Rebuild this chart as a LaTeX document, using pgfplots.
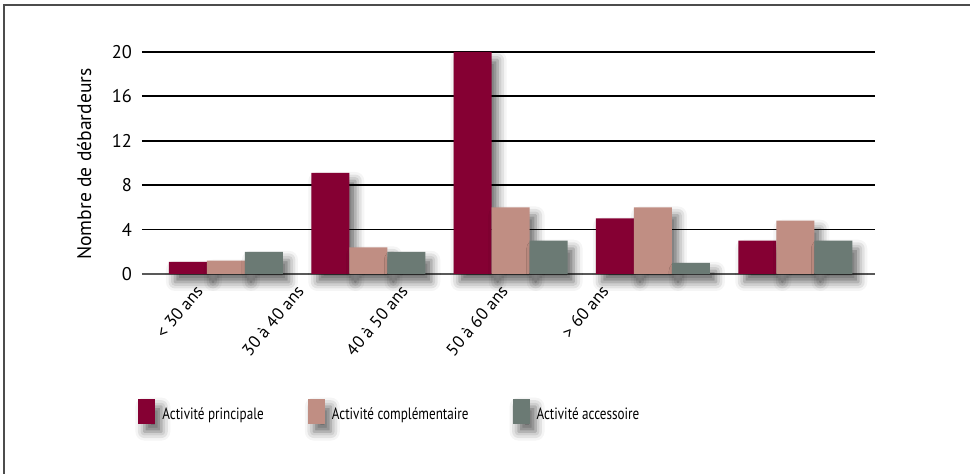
\documentclass[border=0pt]{standalone}
\usepackage{fontspec}
\setmainfont{PT Sans}
\newfontfamily\legfont[FakeStretch=0.8]{PT Sans}
\usepackage{pgfplots}
\pgfplotsset{compat=1.18}
\usetikzlibrary{shadows.blur}

\definecolor{cPrin}{RGB}{133,0,51}
\definecolor{cComp}{RGB}{192,142,131}
\definecolor{cAcc}{RGB}{107,122,116}

\tikzset{barshadow/.style={blur shadow={shadow xshift=3pt, shadow yshift=-4pt,
  shadow blur radius=4.5pt, shadow opacity=60}}}

\begin{document}
\begin{tikzpicture}
  \path[use as bounding box] (0,0) rectangle (485pt,-237pt);
  \draw[line width=0.8pt, black!70] (2pt,-237pt) -- (2pt,-2.5pt) -- (485pt,-2.5pt);
  \begin{axis}[
    at={(71pt,-137pt)}, anchor=south west,
    scale only axis,
    width=366.5pt, height=111pt,
    ybar=0pt,
    bar width=19pt,
    xmin=-0.59, xmax=4.56,
    ymin=0, ymax=20,
    clip=false,
    axis lines*=left,
    y axis line style={draw=none},
    x axis line style={black!65, line width=0.6pt},
    major tick length=0pt,
    ytick={4,8,...,20},
    extra y ticks={0},
    extra y tick style={grid=none},
    ymajorgrids,
    grid style={black, line width=0.9pt},
    /pgf/number format/assume math mode=true,
    yticklabel style={font=\fontsize{9.2}{10}\selectfont, anchor=east, xshift=-1.5pt},
    xtick={-0.228,0.481,1.211,1.914,2.623},
    xticklabels={{< 30 ans},{30 à 40 ans},{40 à 50 ans},{50 à 60 ans},{> 60 ans}},
    xticklabel style={font=\fontsize{8.6}{9}\selectfont, rotate=50, anchor=north east},
    ylabel={Nombre de débardeurs},
    ylabel style={at={(axis description cs:-0.079,0.495)}, anchor=center,
      font=\fontsize{9.8}{11}\selectfont},
    legend columns=3,
    legend style={draw=none, fill=none, inner sep=0pt,
      at={(axis description cs:-0.0055,-0.624)}, anchor=west,
      font=\legfont\fontsize{8.2}{9}\selectfont,
      /tikz/every odd column/.append style={column sep=1.5pt},
      /tikz/every even column/.append style={column sep=20pt}},
    legend image code/.code={\fill[#1] (0pt,-4.3pt) rectangle (8.5pt,8.2pt);},
  ]
    \addplot[fill=cPrin, draw=none, barshadow] coordinates {(0,1.1) (1,9.1) (2,20) (3,5) (4,3)};
    \addplot[fill=cComp, draw=none, barshadow] coordinates {(0,1.2) (1,2.4) (2,6) (3,6) (4,4.8)};
    \addplot[fill=cAcc, draw=none, barshadow] coordinates {(0,2) (1,2) (2,3) (3,1) (4,3)};
    \legend{Activité principale, Activité complémentaire, Activité accessoire}
  \end{axis}
\end{tikzpicture}
\end{document}
